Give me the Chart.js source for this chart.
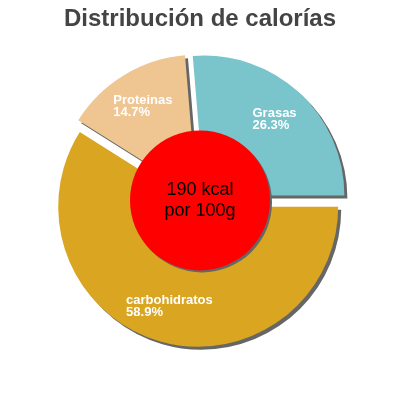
<!DOCTYPE html>
<html>
<head>
<meta charset="utf-8">
<script src="https://cdn.jsdelivr.net/npm/chart.js@4/dist/chart.umd.min.js"></script>
<style>
html,body{margin:0;padding:0;background:#fff;}
#wrap{width:400px;height:400px;}
</style>
</head>
<body>
<div id="wrap"><canvas id="c" width="400" height="400"></canvas></div>
<script>
const titleText = 'Distribución de calorías';
const categories = ['carbohidratos', 'Proteinas', 'Grasas'];
const values = [58.9, 14.7, 26.3];
const centerLines = ['190 kcal', 'por 100g'];
const sliceColors = ['#DAA520', '#EFC592', '#7AC4CC'];

const FONT = "'Liberation Sans', Arial, sans-serif";
const EXPLODE = 6.5;

const piePlugin = {
  id: 'piePlugin',
  afterDatasetsUpdate(chart) {
    const meta = chart.getDatasetMeta(0);
    meta.data.forEach(arc => {
      const mid = (arc.startAngle + arc.endAngle) / 2;
      arc.x += Math.cos(mid) * EXPLODE;
      arc.y += Math.sin(mid) * EXPLODE;
    });
  },
  beforeDatasetsDraw(chart) {
    const c = chart.ctx;
    c.save();
    c.shadowColor = '#666';
    c.shadowOffsetX = 3;
    c.shadowOffsetY = 3;
    c.shadowBlur = 0;
  },
  afterDatasetsDraw(chart) {
    const c = chart.ctx;
    c.restore();
    const meta = chart.getDatasetMeta(0);
    const ca = chart.chartArea;
    const cx = (ca.left + ca.right) / 2;
    const cy = (ca.top + ca.bottom) / 2;
    // labels
    c.save();
    c.fillStyle = '#fff';
    c.font = 'bold 13px ' + FONT;
    c.textBaseline = 'middle';
    c.textAlign = 'left';
    meta.data.forEach((arc, i) => {
      const mid = (arc.startAngle + arc.endAngle) / 2;
      const r = arc.outerRadius * 0.74;
      const px = arc.x + Math.cos(mid) * r;
      const py = arc.y + Math.sin(mid) * r;
      const lines = [categories[i], values[i].toFixed(1) + '%'];
      const w = Math.max(...lines.map(l => c.measureText(l).width));
      const lh = 12;
      lines.forEach((l, k) => {
        c.fillText(l, px - w / 2, py + (k - (lines.length - 1) / 2) * lh);
      });
    });
    c.restore();
    // center disk
    const rr = meta.data.length ? meta.data[0].outerRadius / 2 : 70;
    c.save();
    c.shadowColor = '#666';
    c.shadowOffsetX = 2;
    c.shadowOffsetY = 2;
    c.shadowBlur = 0;
    c.beginPath();
    c.arc(cx, cy, rr, 0, Math.PI * 2);
    c.fillStyle = '#FF0000';
    c.fill();
    c.restore();
    c.save();
    c.fillStyle = '#000';
    c.font = '18px ' + FONT;
    c.textAlign = 'center';
    c.textBaseline = 'middle';
    const lh2 = 21;
    centerLines.forEach((l, k) => {
      c.fillText(l, cx, cy + (k - (centerLines.length - 1) / 2) * lh2);
    });
    c.restore();
  }
};

new Chart(document.getElementById('c'), {
  type: 'pie',
  data: {
    labels: categories,
    datasets: [{
      data: values,
      backgroundColor: sliceColors,
      borderWidth: 0,
      clip: false
    }]
  },
  options: {
    responsive: false,
    animation: false,
    devicePixelRatio: 1,
    rotation: 90,
    radius: 140,
    events: [],
    layout: { padding: { top: 0, bottom: 44, left: 0, right: 0 } },
    plugins: {
      legend: { display: false },
      tooltip: { enabled: false },
      title: {
        display: true,
        text: titleText,
        color: '#444',
        font: { family: FONT, size: 24, weight: 'bold', lineHeight: 1.2 },
        padding: { top: 5, bottom: 11 }
      }
    }
  },
  plugins: [piePlugin]
});
</script>
</body>
</html>
